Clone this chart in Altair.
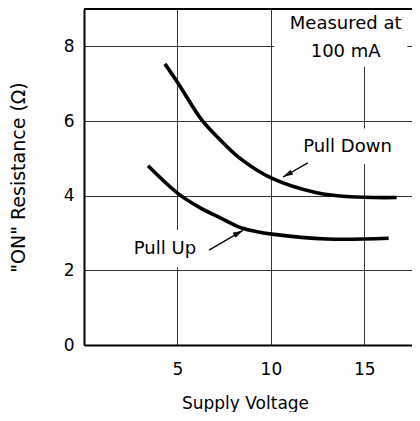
import altair as alt
import pandas as pd

# Curves
down_x = [4.33, 5.05, 6.3, 7.28, 8.35, 10.04, 12.45, 14.23, 16.73]
down_y = [7.53, 7.0, 6.03, 5.5, 5.0, 4.47, 4.08, 3.97, 3.95]
up_x = [3.43, 5.0, 6.2, 7.4, 8.4, 9.2, 10.05, 13.0, 16.3]
up_y = [4.8, 4.07, 3.68, 3.38, 3.14, 3.04, 2.97, 2.84, 2.86]

x_ticks = [5, 10, 15]
y_ticks = [0, 2, 4, 6, 8]

# Annotation texts
label_text = ["Pull Down", "Pull Up", "Measured at", "100 mA"]
label_x = [14.1, 4.33, 14.0, 14.0]
label_y = [5.3, 2.57, 8.6, 7.85]

# White backgrounds behind annotation texts
box_x1 = [11.45, 2.35, 10.17]
box_x2 = [16.8, 6.3, 17.3]
box_y1 = [4.85, 2.08, 7.45]
box_y2 = [5.8, 3.08, 8.97]

# Arrows
arrow_x1 = [11.98, 6.69]
arrow_y1 = [4.88, 2.54]
arrow_x2 = [10.65, 8.5]
arrow_y2 = [4.50, 3.07]
arrow_angle = [241, 61]

curves = pd.DataFrame({
    "v": down_x + up_x,
    "r": down_y + up_y,
    "s": ["Pull Down"] * len(down_x) + ["Pull Up"] * len(up_x),
})
labels = pd.DataFrame({"t": label_text, "v": label_x, "r": label_y})
boxes = pd.DataFrame({"x1": box_x1, "x2": box_x2, "y1": box_y1, "y2": box_y2})
arrows = pd.DataFrame({"x1": arrow_x1, "y1": arrow_y1, "x2": arrow_x2,
                       "y2": arrow_y2, "a": arrow_angle})

FONT = "DejaVu Sans"
XTITLE = "Supply Voltage"
YTITLE = '"ON" Resistance (\u03a9)'
xscale = alt.Scale(domain=[0, 17.55], nice=False, zero=False)
yscale = alt.Scale(domain=[0, 9], nice=False)

xaxis = alt.Axis(values=x_ticks, title=XTITLE, ticks=False,
                 labelPadding=16, titlePadding=18, titleX=161,
                 domainColor="black", domainWidth=2,
                 grid=True, gridColor="#333", gridWidth=1,
                 labelFont=FONT, labelFontSize=17, labelColor="black",
                 titleFont=FONT, titleFontSize=17, titleFontWeight="normal",
                 titleColor="black")
yaxis = alt.Axis(values=y_ticks, title=YTITLE, ticks=False,
                 labelPadding=10, titlePadding=34.5,
                 domainColor="black", domainWidth=2,
                 grid=True, gridColor="#333", gridWidth=1,
                 labelFont=FONT, labelFontSize=17, labelColor="black",
                 titleFont=FONT, titleFontSize=19, titleFontWeight="normal",
                 titleColor="black")


def X(field):
    return alt.X(field, scale=xscale, axis=xaxis, title=XTITLE)


def Y(field):
    return alt.Y(field, scale=yscale, axis=yaxis, title=YTITLE)


lines = alt.Chart(curves).mark_line(color="black", strokeWidth=3.6,
                                    interpolate="catmull-rom").encode(
    x=X("v:Q"), y=Y("r:Q"), detail="s:N",
)

rects = alt.Chart(boxes).mark_rect(color="white").encode(
    x=X("x1:Q"), x2="x2:Q", y=Y("y1:Q"), y2="y2:Q",
)

texts = alt.Chart(labels).mark_text(font=FONT, fontSize=18, color="black").encode(
    x=X("v:Q"), y=Y("r:Q"), text="t:N",
)

arrow_lines = alt.Chart(arrows).mark_rule(color="black", strokeWidth=1.3).encode(
    x=X("x1:Q"), x2="x2:Q", y=Y("y1:Q"), y2="y2:Q",
)

arrow_heads = alt.Chart(arrows).mark_point(
    shape="M0,0 L0.28,1 L-0.28,1 Z", filled=True, color="black",
    size=400, opacity=1).encode(
    x=X("x2:Q"), y=Y("y2:Q"),
    angle=alt.Angle("a:Q", scale=None),
)

top_border = alt.Chart(pd.DataFrame({"r": [9]})).mark_rule(
    color="black", strokeWidth=2).encode(y=Y("r:Q"))

chart = alt.layer(rects, lines, texts, arrow_lines, arrow_heads, top_border).properties(
    width=328, height=336,
    autosize=alt.AutoSizeParams(type="none"),
    padding={"left": 76, "top": 1, "right": 0, "bottom": 67},
).configure_view(stroke=None).configure(background="white")

chart.save("out.html", embed_options={"renderer": "svg", "actions": False})
